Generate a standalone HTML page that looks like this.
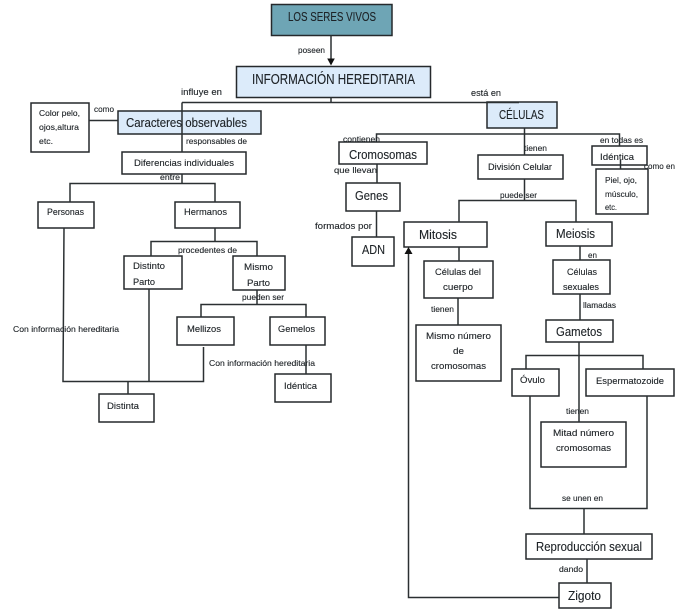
<!DOCTYPE html>
<html lang="es">
<head>
<meta charset="utf-8">
<title>Los seres vivos</title>
<style>
html,body{margin:0;padding:0;background:#fff;width:676px;height:612px;overflow:hidden}
svg{display:block}
.b rect{stroke:#25292c;stroke-width:1.5;fill:#fff}
.b rect.t{fill:#6ea5b5}
.b rect.c{fill:#dcebfa}
.l path{fill:none;stroke:#2b3032;stroke-width:1.5}
text{font-family:"Liberation Sans",sans-serif;fill:#1d2226;stroke:#1d2226;stroke-width:.12px}
.s{font-size:8.5px}
.m{font-size:9.5px}
.g{font-size:12.5px}
.h{font-size:14.5px}
</style>
</head>
<body>
<svg width="676" height="612" viewBox="0 0 676 612" xmlns="http://www.w3.org/2000/svg">
<g style="filter:blur(.3px)">
<g class="b">
<rect class="t" x="271.5" y="4.5" width="120.500" height="31"/>
<rect class="c" x="236.500" y="66.500" width="194" height="31"/>
<rect class="c" x="118" y="111" width="143" height="23"/>
<rect x="31" y="103" width="58" height="49"/>
<rect x="122" y="152" width="124" height="22"/>
<rect x="38" y="202" width="56" height="26"/>
<rect x="175" y="202" width="65" height="26"/>
<rect x="124" y="256" width="58" height="33"/>
<rect x="233" y="256" width="52" height="34"/>
<rect x="177" y="317" width="57" height="28"/>
<rect x="270" y="317" width="55" height="28"/>
<rect x="275" y="374" width="56" height="28"/>
<rect x="99" y="394" width="55" height="28"/>
<rect class="c" x="487" y="102" width="70" height="26"/>
<rect x="339" y="142" width="88" height="22"/>
<rect x="478" y="155" width="85" height="24"/>
<rect x="592" y="146" width="55" height="19"/>
<rect x="596" y="169" width="52" height="45"/>
<rect x="346" y="183" width="54" height="28"/>
<rect x="352" y="237" width="42" height="29"/>
<rect x="404" y="222" width="83" height="25"/>
<rect x="546" y="222" width="66" height="24"/>
<rect x="424" y="261" width="69" height="37"/>
<rect x="416" y="325" width="85" height="56"/>
<rect x="553" y="260" width="57" height="34"/>
<rect x="546" y="320" width="67" height="22"/>
<rect x="512" y="369" width="47" height="27"/>
<rect x="586" y="369" width="88" height="27"/>
<rect x="541" y="422" width="85" height="45"/>
<rect x="526" y="534" width="126" height="25"/>
<rect x="559" y="583" width="52" height="25"/>
</g>
<g class="l">
<path d="M331 35V59"/>
<path d="M331 97V102.500M182 102.500H519M182 102.500V152M519 102.500V102"/>
<path d="M89 120.500H118"/>
<path d="M182 174V183.500M70 202V183.500H215V202"/>
<path d="M215 228V241.500M151 256V241.500H257V256"/>
<path d="M64 228L63 381.500H203.500V347M149 289V381.500M128 381.500V394"/>
<path d="M257 290V304.500M201 317V304.500H306V317"/>
<path d="M306 345V374"/>
<path d="M524.500 128V155M376.500 142V134H619.500V146"/>
<path d="M620.500 160V169"/>
<path d="M377 164V183M376.500 211V237"/>
<path d="M524.500 179V200.500M459 222V200.500H576V222"/>
<path d="M459 247V261M458 298V325"/>
<path d="M580 246V260M580 294V320"/>
<path d="M579 342V422M526 369V355.500H643V369"/>
<path d="M530 396V508.500H647V396M584 508.500V534"/>
<path d="M587 559V583"/>
<path d="M559 597.500H408.500V252"/>
</g>
<path d="M327.200 58.500H334.800L331 65.500Z" fill="#111"/>
<path d="M404.500 254H412.500L408.500 247Z" fill="#111"/>
<text class="g" x="288" y="21" textLength="88" lengthAdjust="spacingAndGlyphs">LOS SERES VIVOS</text>
<text class="s" x="298" y="53" textLength="27" lengthAdjust="spacingAndGlyphs">poseen</text>
<text class="h" x="252" y="84" textLength="163" lengthAdjust="spacingAndGlyphs">INFORMACIÓN HEREDITARIA</text>
<text class="m" x="181" y="95" textLength="41" lengthAdjust="spacingAndGlyphs">influye en</text>
<text class="m" x="471" y="96" textLength="30" lengthAdjust="spacingAndGlyphs">está en</text>
<text class="s" x="94" y="112" textLength="20" lengthAdjust="spacingAndGlyphs">como</text>
<text class="s" x="39" y="116" textLength="41" lengthAdjust="spacingAndGlyphs">Color pelo,</text>
<text class="s" x="39" y="130" textLength="40" lengthAdjust="spacingAndGlyphs">ojos,altura</text>
<text class="s" x="39" y="144" textLength="14" lengthAdjust="spacingAndGlyphs">etc.</text>
<text class="g" x="126" y="127" textLength="121" lengthAdjust="spacingAndGlyphs">Caracteres observables</text>
<text class="s" x="186" y="144" textLength="61" lengthAdjust="spacingAndGlyphs">responsables de</text>
<text class="m" x="134" y="166" textLength="100" lengthAdjust="spacingAndGlyphs">Diferencias individuales</text>
<text class="s" x="160" y="180" textLength="20" lengthAdjust="spacingAndGlyphs">entre</text>
<text class="m" x="47" y="215" textLength="37" lengthAdjust="spacingAndGlyphs">Personas</text>
<text class="m" x="184" y="215" textLength="43" lengthAdjust="spacingAndGlyphs">Hermanos</text>
<text class="s" x="178" y="253" textLength="59" lengthAdjust="spacingAndGlyphs">procedentes de</text>
<text class="m" x="133" y="269" textLength="32" lengthAdjust="spacingAndGlyphs">Distinto</text>
<text class="m" x="133" y="285" textLength="22" lengthAdjust="spacingAndGlyphs">Parto</text>
<text class="m" x="244" y="270" textLength="29" lengthAdjust="spacingAndGlyphs">Mismo</text>
<text class="m" x="247" y="286" textLength="23" lengthAdjust="spacingAndGlyphs">Parto</text>
<text class="s" x="242" y="300" textLength="42" lengthAdjust="spacingAndGlyphs">pueden ser</text>
<text class="m" x="187" y="332" textLength="34" lengthAdjust="spacingAndGlyphs">Mellizos</text>
<text class="m" x="278" y="332" textLength="37" lengthAdjust="spacingAndGlyphs">Gemelos</text>
<text class="s" x="13" y="332" textLength="106" lengthAdjust="spacingAndGlyphs">Con información hereditaria</text>
<text class="s" x="209" y="366" textLength="106" lengthAdjust="spacingAndGlyphs">Con información hereditaria</text>
<text class="m" x="284" y="389" textLength="33" lengthAdjust="spacingAndGlyphs">Idéntica</text>
<text class="m" x="107" y="409" textLength="32" lengthAdjust="spacingAndGlyphs">Distinta</text>
<text class="g" x="499" y="119" textLength="45" lengthAdjust="spacingAndGlyphs">CÉLULAS</text>
<text class="s" x="343" y="142" textLength="37" lengthAdjust="spacingAndGlyphs">contienen</text>
<text class="g" x="349" y="159" textLength="68" lengthAdjust="spacingAndGlyphs">Cromosomas</text>
<text class="s" x="334" y="173" textLength="43" lengthAdjust="spacingAndGlyphs">que llevan</text>
<text class="g" x="355" y="200" textLength="33" lengthAdjust="spacingAndGlyphs">Genes</text>
<text class="m" x="315" y="229" textLength="57" lengthAdjust="spacingAndGlyphs">formados por</text>
<text class="g" x="362" y="254" textLength="23" lengthAdjust="spacingAndGlyphs">ADN</text>
<text class="s" x="524" y="151" textLength="23" lengthAdjust="spacingAndGlyphs">tienen</text>
<text class="m" x="488" y="170" textLength="64" lengthAdjust="spacingAndGlyphs">División Celular</text>
<text class="s" x="600" y="143" textLength="43" lengthAdjust="spacingAndGlyphs">en todas es</text>
<text class="m" x="600" y="160" textLength="34" lengthAdjust="spacingAndGlyphs">Idéntica</text>
<text class="s" x="644" y="169" textLength="31" lengthAdjust="spacingAndGlyphs">como en</text>
<text class="s" x="605" y="183" textLength="32" lengthAdjust="spacingAndGlyphs">Piel, ojo,</text>
<text class="s" x="605" y="197" textLength="33" lengthAdjust="spacingAndGlyphs">músculo,</text>
<text class="s" x="605" y="210" textLength="12" lengthAdjust="spacingAndGlyphs">etc.</text>
<text class="s" x="500" y="198" textLength="37" lengthAdjust="spacingAndGlyphs">puede ser</text>
<text class="g" x="419" y="239" textLength="38" lengthAdjust="spacingAndGlyphs">Mitosis</text>
<text class="g" x="556" y="238" textLength="39" lengthAdjust="spacingAndGlyphs">Meiosis</text>
<text class="s" x="588" y="258" textLength="9" lengthAdjust="spacingAndGlyphs">en</text>
<text class="m" x="435" y="275" textLength="46" lengthAdjust="spacingAndGlyphs">Células del</text>
<text class="m" x="443" y="290" textLength="30" lengthAdjust="spacingAndGlyphs">cuerpo</text>
<text class="m" x="567" y="275" textLength="30" lengthAdjust="spacingAndGlyphs">Células</text>
<text class="m" x="563" y="290" textLength="36" lengthAdjust="spacingAndGlyphs">sexuales</text>
<text class="s" x="431" y="312" textLength="23" lengthAdjust="spacingAndGlyphs">tienen</text>
<text class="s" x="583" y="308" textLength="33" lengthAdjust="spacingAndGlyphs">llamadas</text>
<text class="m" x="426" y="339" textLength="65" lengthAdjust="spacingAndGlyphs">Mismo número</text>
<text class="m" x="453" y="354" textLength="11" lengthAdjust="spacingAndGlyphs">de</text>
<text class="m" x="431" y="369" textLength="55" lengthAdjust="spacingAndGlyphs">cromosomas</text>
<text class="g" x="556" y="336" textLength="46" lengthAdjust="spacingAndGlyphs">Gametos</text>
<text class="m" x="520" y="383" textLength="25" lengthAdjust="spacingAndGlyphs">Óvulo</text>
<text class="m" x="596" y="384" textLength="68" lengthAdjust="spacingAndGlyphs">Espermatozoide</text>
<text class="s" x="566" y="414" textLength="23" lengthAdjust="spacingAndGlyphs">tienen</text>
<text class="m" x="553" y="436" textLength="61" lengthAdjust="spacingAndGlyphs">Mitad número</text>
<text class="m" x="556" y="451" textLength="55" lengthAdjust="spacingAndGlyphs">cromosomas</text>
<text class="s" x="562" y="501" textLength="41" lengthAdjust="spacingAndGlyphs">se unen en</text>
<text class="g" x="536" y="551" textLength="106" lengthAdjust="spacingAndGlyphs">Reproducción sexual</text>
<text class="s" x="559" y="572" textLength="24" lengthAdjust="spacingAndGlyphs">dando</text>
<text class="g" x="568" y="600" textLength="33" lengthAdjust="spacingAndGlyphs">Zigoto</text>
</g>
</svg>
</body>
</html>
